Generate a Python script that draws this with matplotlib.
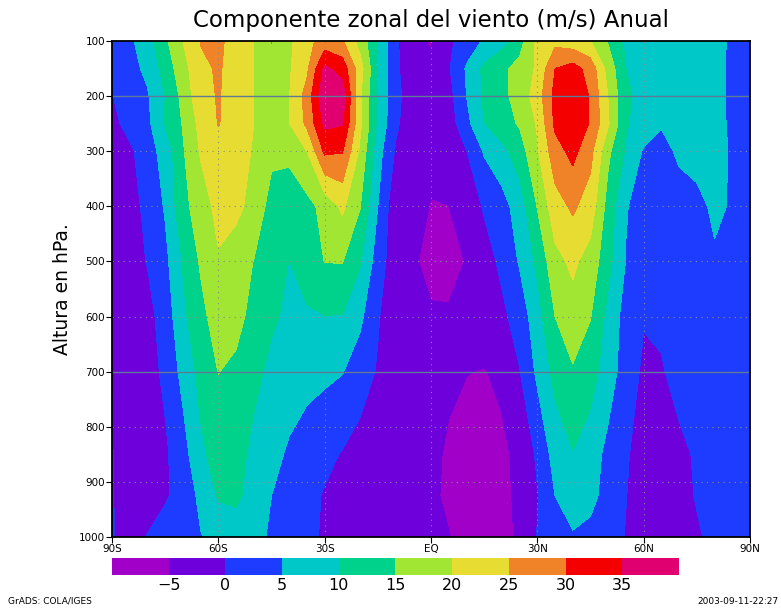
import numpy as np
import matplotlib
matplotlib.use("Agg")
import matplotlib.pyplot as plt

# latitude (deg, S negative) and pressure levels (hPa)
lats = list(range(-90, 91, 5))
levels = [100, 150, 200, 250, 300, 400, 500, 600, 700, 850, 925, 1000]

# annual zonal-mean zonal wind (m/s), one row per pressure level, 90S -> 90N
u100 = [3, 4, 8, 14, 20, 25.2, 26, 23, 20, 14.5, 19, 23.5, 27, 25.5, 18, 10, 1, -4.5, -5.2,
        -1, 2.5, 5.5, 8, 13, 21, 23.5, 22, 20, 14.5, 9, 8, 7.5, 7, 6.5, 6, 4.5, 3.5]
u150 = [1.5, 3.5, 6, 12, 18, 24, 25.5, 23, 20, 17, 19.5, 24, 36, 33, 22, 10, 1, -3.5, -4.5,
        -0.5, 5.5, 11, 14, 16.5, 20.8, 30, 32, 28, 18, 10, 8, 8, 7.5, 7, 6.5, 4, 3.5]
u200 = [-0.2, 2.5, 4.5, 10, 16.5, 23.5, 25.3, 23, 20, 18, 19.8, 27, 39, 38, 20.5, 9.5, 1.5, -3, -4.5,
        -1.8, 5, 11, 13.8, 16.8, 22.5, 31.5, 34.5, 29.5, 19.8, 10.8, 8.5, 8.5, 8, 7.5, 6.5, 4, 3.5]
u250 = [-1.5, 1.8, 3.8, 10.3, 15.3, 21.5, 25.2, 23, 20, 17.5, 19.8, 26, 36, 35.3, 21, 9, 1, -3.5, -4.5,
        -2.5, 3.5, 9.8, 13, 15.5, 20.5, 31, 34, 29.5, 20.5, 10.5, 7.5, 5.5, 7, 7, 6.5, 4.2, 3.5]
u300 = [-3, -1, 3, 6.8, 14.5, 20.5, 23, 22.5, 19.5, 16, 16, 20, 31, 30.3, 19, 7, -0.5, -3.8, -4.7,
        -2.5, -0.2, 5.5, 8.5, 12.5, 19.5, 28, 31.5, 26.5, 16, 9.5, 4.5, 3, 6, 7, 6.5, 4.5, 3.5]
u400 = [-4, -1.5, 1, 5.5, 13.5, 17.5, 21.5, 21.5, 18, 13.3, 12.5, 13.5, 16.5, 21, 15.2, 5, -3.5, -4.6, -5.05,
        -5.05, -3, 0.5, 3, 7.5, 15.2, 23, 25.8, 22.7, 13, 5.3, 3, 2, 2.5, 3.5, 6, 4.5, 3.5]
u500 = [-4.5, -2, 0.2, 3.7, 10.3, 15.6, 19.5, 17, 14.9, 12.5, 9.9, 12.5, 15.1, 15.2, 10.5, 2.5, -3, -4.6, -6,
        -6.5, -4.8, -2, 1, 5.5, 11, 18.5, 21, 18, 11.5, 4.8, 2, 1.5, 2, 3, 4.3, 3.5, 3]
u600 = [-2, -3, -1.5, 2, 9, 13.5, 17.5, 16.5, 13.5, 10.8, 9, 9.3, 9.9, 9.8, 6, 0.5, -4, -4.8, -4.6,
        -4.5, -3.5, -2.5, -1, 2, 8, 15, 18, 15.2, 8.5, 3, 0.3, 0.8, 2, 2.5, 2.5, 2.5, 2.5]
u700 = [-0.1, -3, -2, 1, 6.5, 11.5, 15.1, 14, 11.5, 8.7, 7.5, 6.5, 6, 5.2, 2.5, -0.5, -3, -4, -4.5,
        -4.6, -4.9, -5.2, -4.2, -0.2, 6, 11.5, 14.5, 12, 7.5, 2.5, -0.8, -0.4, 1.5, 2.5, 2.5, 2.5, 2.5]
u850 = [0.2, -3, -2.2, -0.8, 3, 9, 12, 12.2, 8.5, 6.5, 4.3, 2.8, 1.2, -0.3, -2, -3.5, -4, -4.2, -4.5,
        -5.3, -6.5, -7, -5.8, -4, 0.8, 7, 9.8, 7.5, 3.5, 0.5, -2, -2.5, -1, 0.5, 2, 2.5, 2.5]
u925 = [0.3, -3, -2.2, -0.7, 2.3, 6, 10.5, 11, 8, 5, 3.5, 1.5, -0.4, -2, -3, -3.7, -4, -4.2, -4.5,
        -5.5, -7, -7, -6, -4.2, -0.3, 5, 7.5, 6.5, 3, 0.1, -2, -2.5, -1.5, 0.3, 1.5, 2.5, 2.5]
u1000 = [0.5, -2.6, 0.2, 2.5, 3.8, 4.8, 6.5, 7.5, 6.5, 4.3, 3, 1.5, -0.8, -2.5, -3.5, -4, -4.3, -4.5, -4.6,
         -4.9, -6, -6.5, -6, -4.5, 0.2, 3, 4.5, 3.5, 2, -0.2, -2, -3, -2, -0.5, 1, 2, 2.5]

contour_levels = [-100, -5, 0, 5, 10, 15, 20, 25, 30, 35, 100]
cbar_ticks = [-5, 0, 5, 10, 15, 20, 25, 30, 35]
fill_colors = ["#a000c8", "#6e00dc", "#1e3cff", "#00c8c8", "#00d28c",
               "#a0e632", "#e6dc32", "#f08228", "#f50000", "#e00070"]
xticks = [-90, -60, -30, 0, 30, 60, 90]
xticklabels = ["90S", "60S", "30S", "EQ", "30N", "60N", "90N"]
yticks = [100, 200, 300, 400, 500, 600, 700, 800, 900, 1000]

U = np.array([u100, u150, u200, u250, u300, u400, u500, u600, u700, u850, u925, u1000])

W, H = 781, 609
fig = plt.figure(figsize=(W / 100, H / 100), dpi=100)
ax = fig.add_axes([112 / W, 1 - 537 / H, 638 / W, 496 / H])

cf = ax.contourf(lats, levels, U, levels=contour_levels, colors=fill_colors)

# grid: dotted, with solid lines at 200 and 700 hPa
for x in xticks[1:-1]:
    ax.axvline(x, color="#8a8a8a", lw=0.8, ls=(0, (1, 4)))
for y in [300, 400, 500, 600, 800, 900]:
    ax.axhline(y, color="#8a8a8a", lw=0.8, ls=(0, (1, 4)))
for y in [200, 700]:
    ax.axhline(y, color="#5f7a96", lw=1.0)

ax.set_xlim(-90, 90)
ax.set_ylim(1000, 100)
ax.set_xticks(xticks)
ax.set_xticklabels(xticklabels)
ax.set_yticks(yticks)
ax.tick_params(labelsize=7.5, length=4, width=0.8, direction="out", pad=1)
for s in ax.spines.values():
    s.set_linewidth(1.3)

ax.set_ylabel("Altura en hPa.", fontsize=13.5, labelpad=5)
fig.text(431 / W, 1 - 20 / H, "Componente zonal del viento (m/s) Anual",
         ha="center", va="center", fontsize=16.5)

cax = fig.add_axes([112 / W, 1 - 575 / H, 567 / W, 17 / H])
cb = fig.colorbar(cf, cax=cax, orientation="horizontal", spacing="uniform",
                  ticks=cbar_ticks)
cb.outline.set_visible(False)
cb.ax.tick_params(length=0, labelsize=11.5, pad=2)
cb.ax.set_xticklabels([str(t).replace("-", "\u2212") for t in cbar_ticks])

fig.text(8 / W, 1 - 601 / H, "GrADS: COLA/IGES", fontsize=6.5, va="center")
fig.text(778 / W, 1 - 601 / H, "2003-09-11-22:27", fontsize=6.5, va="center", ha="right")

fig.savefig("out.png", dpi=100)
